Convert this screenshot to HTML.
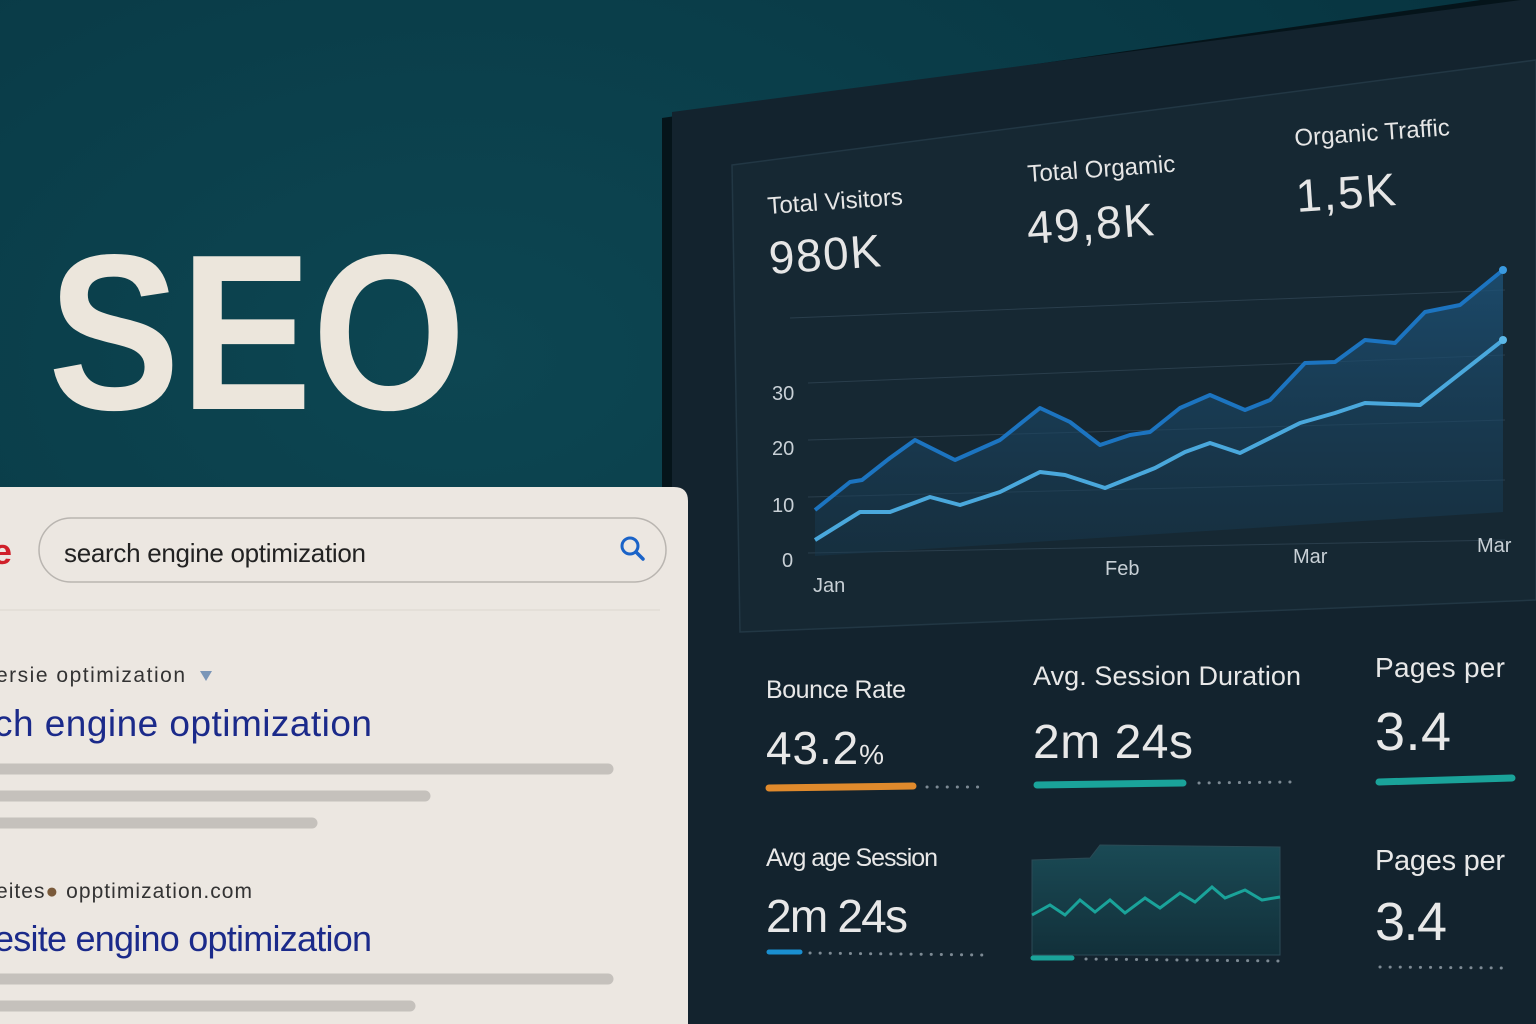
<!DOCTYPE html>
<html><head><meta charset="utf-8"><style>
html,body{margin:0;padding:0;width:1536px;height:1024px;overflow:hidden;background:#0a3c48}
svg{display:block}
text{font-family:"Liberation Sans","DejaVu Sans",sans-serif}
</style></head><body>
<svg width="1536" height="1024" viewBox="0 0 1536 1024" xmlns="http://www.w3.org/2000/svg">
<defs>
<radialGradient id="bg" cx="0.3" cy="0.35" r="0.9">
<stop offset="0" stop-color="#0d4652"/><stop offset="1" stop-color="#06313d"/></radialGradient>
<linearGradient id="area" x1="0" y1="0" x2="0" y2="1"><stop offset="0" stop-color="#1d5278" stop-opacity="0.8"/><stop offset="1" stop-color="#173a52" stop-opacity="0.4"/></linearGradient>
<linearGradient id="mini" x1="0" y1="0" x2="0" y2="1"><stop offset="0" stop-color="#1a4a55"/><stop offset="1" stop-color="#12303a"/></linearGradient>
</defs>
<rect width="1536" height="1024" fill="url(#bg)"/>
<polygon points="662,118 1536,-8 1536,1024 662,1024" fill="#05141a"/>
<polygon points="672,112 1536,-2 1536,1024 672,1024" fill="#13232e"/>
<polygon points="732,165 1536,60 1536,600 740,632" fill="#162833" stroke="#223744" stroke-width="1.5"/>
<g fill="#e6e6e6">
<text x="768" y="214" font-size="24" transform="rotate(-4 768 214)">Total Visitors</text>
<text x="770" y="274" font-size="46" textLength="112" transform="rotate(-4 770 274)">980K</text>
<text x="1028" y="182" font-size="24" transform="rotate(-4 1028 182)">Total Orgamic</text>
<text x="1028" y="244" font-size="46" textLength="127" transform="rotate(-4 1028 244)">49,8K</text>
<text x="1295" y="146" font-size="24" transform="rotate(-4 1295 146)">Organic Traffic</text>
<text x="1297" y="212" font-size="46" textLength="100" transform="rotate(-4 1297 212)">1,5K</text>
</g>
<g stroke="#2a3e4c" stroke-width="1">
<line x1="790" y1="318" x2="1505" y2="290"/>
<line x1="808" y1="383" x2="1505" y2="355"/>
<line x1="808" y1="440" x2="1505" y2="420"/>
<line x1="808" y1="497" x2="1505" y2="480"/>
<line x1="808" y1="553" x2="1505" y2="540"/>
</g>
<g fill="#c8d0d6" font-size="20">
<text x="772" y="400">30</text><text x="772" y="455">20</text><text x="772" y="512">10</text><text x="782" y="567">0</text>
<text x="813" y="592">Jan</text><text x="1105" y="575">Feb</text><text x="1293" y="563">Mar</text><text x="1477" y="552">Mar</text>
</g>
<polygon fill="url(#area)" points="815,510 850,482 862,480 890,458 915,440 955,460 1000,440 1040,408 1070,422 1100,445 1130,435 1150,432 1180,408 1210,395 1245,410 1270,400 1305,363 1335,362 1365,340 1395,343 1425,312 1460,305 1503,270 1503,512 815,556"/>
<polyline fill="none" stroke="#1c74c0" stroke-width="4" stroke-linejoin="round" points="815,510 850,482 862,480 890,458 915,440 955,460 1000,440 1040,408 1070,422 1100,445 1130,435 1150,432 1180,408 1210,395 1245,410 1270,400 1305,363 1335,362 1365,340 1395,343 1425,312 1460,305 1503,270"/>
<polyline fill="none" stroke="#4aa8dc" stroke-width="4" stroke-linejoin="round" points="815,540 860,512 890,512 930,497 960,505 1000,492 1040,472 1065,475 1105,488 1155,468 1185,452 1210,443 1240,453 1300,423 1335,413 1365,403 1420,405 1503,340"/>
<circle cx="1503" cy="270" r="4" fill="#3a9ae0"/><circle cx="1503" cy="340" r="4" fill="#5cb8e8"/>
<g fill="#e8e8e8">
<text x="766" y="698" font-size="25" textLength="140">Bounce Rate</text>
<text x="766" y="764" font-size="46" textLength="118">43.2<tspan font-size="28">%</tspan></text>
<text x="1033" y="685" font-size="27" textLength="268">Avg. Session Duration</text>
<text x="1033" y="758" font-size="48" textLength="160">2m 24s</text>
<text x="1375" y="677" font-size="28" textLength="130">Pages per</text>
<text x="1375" y="750" font-size="54" textLength="76">3.4</text>
<text x="766" y="866" font-size="25" textLength="172">Avg age Session</text>
<text x="766" y="932" font-size="46" textLength="142">2m 24s</text>
<text x="1375" y="870" font-size="29" textLength="130">Pages per</text>
<text x="1375" y="940" font-size="54" textLength="72">3.4</text>
</g>
<line x1="769" y1="788" x2="913" y2="786" stroke="#e08a2c" stroke-width="7" stroke-linecap="round"/>
<line x1="1037" y1="785" x2="1183" y2="783" stroke="#1aa39a" stroke-width="7" stroke-linecap="round"/>
<line x1="1379" y1="782" x2="1512" y2="778" stroke="#1aa39a" stroke-width="7" stroke-linecap="round"/>
<line x1="769" y1="952" x2="800" y2="952" stroke="#1a8fd0" stroke-width="5" stroke-linecap="round"/>
<line x1="1033" y1="958" x2="1072" y2="958" stroke="#1aa39a" stroke-width="5" stroke-linecap="round"/>
<g stroke="#7d8a94" stroke-width="3" stroke-dasharray="0.1 10" stroke-linecap="round">
<line x1="927" y1="787" x2="985" y2="787"/>
<line x1="1199" y1="783" x2="1290" y2="782"/>
<line x1="810" y1="953" x2="985" y2="955"/>
<line x1="1086" y1="959" x2="1280" y2="961"/>
<line x1="1380" y1="967" x2="1505" y2="968"/>
</g>
<path d="M1032,860 L1090,858 L1100,845 L1280,847 L1280,955 L1032,955 Z" fill="url(#mini)" stroke="#2b4a55"/>
<polyline fill="none" stroke="#1aa39a" stroke-width="3" points="1032,915 1050,905 1065,915 1080,900 1095,912 1110,900 1125,913 1145,898 1160,908 1180,893 1195,902 1212,887 1225,898 1245,890 1262,900 1280,897"/>
<text x="48" y="409" font-size="222" font-weight="bold" fill="#ece6dc" textLength="418" lengthAdjust="spacingAndGlyphs">SEO</text>
<path d="M0,487 L674,487 Q688,487 688,501 L688,1024 L0,1024 Z" fill="#ece7e1"/>
<rect x="39" y="518" width="627" height="64" rx="32" fill="#ece7e1" stroke="#b9b5b0" stroke-width="1.5"/>
<text x="-8" y="564" font-size="36" fill="#d0202a" font-weight="bold">e</text>
<text x="64" y="562" font-size="26" fill="#222" textLength="302">search engine optimization</text>
<circle cx="630" cy="546" r="8" fill="none" stroke="#1a63c8" stroke-width="3"/>
<line x1="636" y1="552" x2="643" y2="559" stroke="#1a63c8" stroke-width="3.5" stroke-linecap="round"/>
<line x1="0" y1="610" x2="660" y2="610" stroke="#dcd7d0"/>
<text x="-4" y="682" font-size="21" fill="#333" textLength="189">ersie  optimization</text>
<polygon points="200,671 212,671 206,681" fill="#7a96b8"/>
<text x="-6" y="736" font-size="37" fill="#1b2a8a" textLength="378">ch engine optimization</text>
<g stroke="#c5c1bc" stroke-width="11" stroke-linecap="round">
<line x1="0" y1="769" x2="608" y2="769"/><line x1="0" y1="796" x2="425" y2="796"/><line x1="0" y1="823" x2="312" y2="823"/>
<line x1="0" y1="979" x2="608" y2="979"/><line x1="0" y1="1006" x2="410" y2="1006"/>
</g>
<text x="-4" y="898" font-size="21" fill="#333" textLength="256">eites<tspan fill="#7a5a3a">●</tspan> opptimization.com</text>
<text x="-6" y="951" font-size="36" fill="#1b2a8a" textLength="378">esite engino optimization</text>
</svg>
</body></html>
